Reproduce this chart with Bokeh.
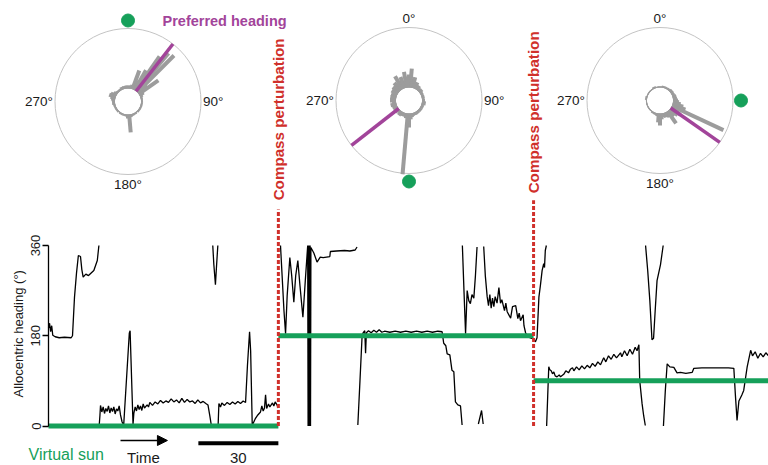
import numpy as np
from bokeh.plotting import figure
from bokeh.models import Range1d, LinearAxis, FixedTicker, Arrow, NormalHead
from bokeh.core.properties import value
from bokeh.embed import file_html
from bokeh.resources import INLINE

nan = float("nan")

# ------------------------------------------------------------------ data
epoch_start = [0.0, 86.2, 181.9]          # s, compass perturbations at 86.2 and 181.9 s
epoch_end = [86.2, 181.9, 270.0]
virtual_sun = [0, 180, 90]                # deg, per epoch
preferred_heading = [38, 232, 125]        # deg, per epoch
heading_ticks = [0, 180, 360]
scale_bar_s = 30
perturb_label = "Compass perturbation"

epoch1_trace = [
    (0.0, 195), (0.4, 205), (0.8, 188), (1.2, 200), (1.6, 181), (2.5, 178), (4.0, 176), (6.0, 177),
    (8.5, 176), (9.0, 180), (9.75, 257), (10.5, 305), (11.2, 340), (12.0, 338), (12.5, 312), (13.0, 297),
    (14.0, 303), (15.0, 300), (16.0, 305), (17.0, 310), (18.3, 330), (18.9, 360), (nan, nan),
    (19.0, 0), (19.3, 22), (19.5, 41), (20.0, 28), (20.5, 38), (21.0, 25), (21.5, 35), (22.0, 29),
    (22.5, 40), (23.0, 26), (23.5, 36), (24.0, 29), (24.5, 38), (25.0, 24), (25.5, 34), (26.0, 30),
    (26.5, 40), (27.0, 22), (27.6, 8), (28.2, 2), (30.3, 185), (30.6, 190), (31.7, 3), (32.0, 25),
    (32.5, 38), (33.0, 30), (33.5, 42), (34.0, 33), (34.5, 40), (35.0, 31), (35.5, 44), (36.0, 36),
    (37.0, 42), (37.5, 38), (38.0, 47), (39.0, 41), (40.0, 48), (41.0, 44), (42.0, 51), (43.0, 46),
    (44.0, 50), (45.0, 47), (46.0, 54), (47.0, 48), (48.0, 52), (49.0, 46), (50.0, 55), (51.0, 47),
    (52.0, 53), (53.0, 48), (54.0, 50), (55.0, 45), (56.0, 52), (57.0, 46), (58.0, 49), (59.0, 45),
    (59.8, 42), (60.5, 20), (61.1, 0), (nan, nan),
    (61.6, 360), (62.0, 322), (62.6, 282), (63.0, 318), (63.5, 360), (nan, nan),
    (63.6, 0), (63.9, 45), (64.5, 38), (65.0, 46), (66.0, 41), (67.0, 47), (68.0, 43), (69.0, 48),
    (70.0, 44), (71.0, 49), (72.0, 45), (73.0, 50), (73.9, 47), (74.6, 120), (75.4, 188), (75.8, 150),
    (76.4, 2), (76.8, 6), (77.5, 14), (78.5, 22), (79.5, 28), (80.0, 40), (80.5, 30), (81.0, 36),
    (81.4, 62), (81.8, 35), (82.5, 44), (83.0, 38), (84.0, 46), (84.5, 40), (85.0, 48), (85.7, 42),
    (86.1, 36),
]

epoch2_trace = [
    (87.0, 360), (87.6, 300), (88.3, 230), (88.9, 184), (89.5, 260), (90.5, 336), (91.2, 300), (92.0, 247),
    (92.7, 300), (93.5, 330), (94.3, 280), (95.4, 217), (96.3, 290), (97.2, 360), (97.35, 0), (97.5, 360),
    (97.65, 0), (97.8, 360), (97.95, 0), (98.1, 360), (98.25, 0), (98.4, 356), (99.5, 345), (100.7, 327),
    (101.9, 337), (103.0, 336), (105.5, 338), (105.7, 348), (108.0, 349), (111.0, 350), (113.0, 349),
    (115.0, 351), (115.7, 357), (nan, nan),
    (116.0, 2), (116.8, 90), (117.6, 180), (118.0, 186), (118.6, 190), (118.9, 145), (119.2, 186),
    (120.0, 190), (121.0, 186), (122.0, 191), (123.0, 187), (124.0, 192), (125.0, 187), (126.0, 189),
    (128.0, 187), (130.0, 189), (132.0, 187), (134.0, 189), (136.0, 187), (138.0, 189), (140.0, 187),
    (142.0, 189), (144.0, 187), (146.0, 189), (147.6, 188), (148.2, 165), (149.0, 160), (149.5, 144),
    (150.5, 142), (151.3, 111), (152.0, 108), (152.6, 48), (153.5, 42), (154.5, 40), (155.1, 2), (nan, nan),
    (155.2, 360), (155.8, 270), (156.4, 184), (157.0, 270), (157.6, 250), (158.2, 244), (158.8, 262),
    (159.5, 255), (160.1, 300), (160.7, 357), (nan, nan),
    (161.2, 4), (162.4, 31), (163.0, 4), (nan, nan),
    (163.2, 358), (163.8, 300), (164.5, 258), (165.0, 240), (165.5, 262), (166.0, 235), (166.5, 255),
    (167.0, 238), (167.5, 258), (168.2, 245), (168.9, 276), (169.5, 245), (170.0, 252), (171.0, 230),
    (171.5, 245), (172.0, 228), (173.3, 215), (174.0, 238), (175.2, 240), (176.0, 214), (176.5, 225),
    (177.0, 210), (178.0, 222), (178.3, 200), (178.9, 186), (179.5, 180), (180.5, 176), (181.5, 174),
    (181.9, 175),
]

epoch3_trace = [
    (182.0, 172), (182.6, 168), (183.2, 176), (183.9, 257), (184.5, 282), (185.1, 310), (185.7, 324),
    (186.0, 316), (186.3, 350), (186.7, 360), (nan, nan),
    (186.8, 0), (187.2, 60), (187.6, 118), (188.0, 112), (188.5, 110), (189.0, 104), (189.5, 108),
    (190.0, 100), (190.7, 98), (191.5, 102), (192.0, 98), (193.2, 103), (194.0, 110), (195.0, 106),
    (195.7, 113), (196.5, 116), (197.0, 110), (198.0, 118), (199.0, 112), (200.0, 120), (201.0, 114),
    (202.0, 121), (203.0, 116), (204.0, 125), (205.0, 119), (206.0, 128), (207.0, 122), (208.2, 136),
    (209.0, 128), (210.0, 140), (211.0, 133), (212.0, 143), (213.0, 136), (214.5, 146), (215.0, 138),
    (216.0, 150), (217.0, 140), (218.0, 153), (219.0, 143), (220.0, 157), (220.7, 150), (221.4, 162),
    (221.7, 91), (222.6, 44), (223.2, 20), (223.8, 1), (nan, nan),
    (223.9, 360), (224.7, 310), (225.5, 250), (226.3, 172), (226.9, 175), (227.5, 230), (228.2, 290),
    (229.5, 322), (230.5, 360), (nan, nan),
    (230.6, 0), (231.3, 70), (232.0, 124), (233.0, 118), (234.5, 117), (235.7, 106), (237.0, 107),
    (239.0, 105), (241.4, 107), (242.0, 115), (245.0, 116), (250.0, 116), (255.0, 116), (257.0, 115),
    (257.6, 60), (258.2, 11), (258.9, 50), (260.0, 62), (260.7, 71), (262.0, 118), (263.3, 151),
    (264.0, 140), (265.0, 148), (266.0, 135), (267.0, 145), (268.0, 138), (269.0, 146), (270.0, 140),
]

# polar (rose) histograms: 5-degree bins, counts (60 = full radius)
rose_angles = list(range(0, 360, 5))
rose_counts_1 = [3, 2, 3, 4, 20, 10, 23, 42, 50, 52, 12, 24, 5, 3, 2, 2, 1, 2, 1, 1, 2, 1, 1, 2,
                 1, 1, 2, 1, 1, 1, 2, 1, 2, 2, 3, 18, 4, 2, 1, 2, 1, 1, 2, 1, 1, 1, 2, 1,
                 1, 2, 1, 2, 2, 3, 2, 3, 4, 5, 7, 6, 4, 3, 2, 2, 1, 2, 2, 3, 2, 3, 2, 3]
rose_counts_2 = [13, 19, 9, 11, 5, 7, 4, 5, 2, 3, 4, 2, 3, 2, 1, 3, 2, 1, 3, 2, 4, 1, 2, 3,
                 2, 1, 3, 2, 1, 3, 2, 3, 2, 3, 4, 6, 14, 61, 5, 3, 4, 2, 4, 5, 3, 2, 5, 3,
                 5, 3, 5, 6, 4, 3, 6, 4, 6, 3, 6, 4, 7, 5, 8, 5, 10, 7, 15, 8, 12, 7, 16, 11]
rose_counts_3 = [1, 1, 1, 2, 1, 1, 2, 1, 2, 2, 3, 2, 3, 2, 3, 4, 3, 4, 5, 6, 8, 11, 14, 57,
                 9, 12, 10, 6, 8, 15, 6, 4, 5, 3, 4, 6, 12, 9, 3, 2, 2, 1, 2, 1, 1, 1, 1, 1,
                 1, 1, 1, 1, 1, 1, 1, 1, 2, 1, 1, 1, 1, 1, 1, 1, 1, 1, 1, 2, 1, 1, 1, 1]
rose_counts = [rose_counts_1, rose_counts_2, rose_counts_3]
rose_full = 60
polar_labels = [[90, 180, 270], [0, 90, 270], [0, 180, 270]]

# ------------------------------------------------------------------ styles / layout
W, H = 768, 465
GREEN = "#16a05a"
PURPLE = "#a2449a"
RED = "#d0302b"
GRAY = "#9c9c9c"
FONT = value("Liberation Sans")

# pixel scales of the time-series coordinate system
SX = 2.6667   # px per second
SY = 0.5014   # px per degree
x0 = -48.0 / SX
y1 = 425.5 / SY
p = figure(width=W, height=H, output_backend="svg", toolbar_location=None,
           x_axis_type=None, y_axis_type=None, min_border=0,
           x_range=Range1d(x0, x0 + W / SX), y_range=Range1d(y1 - H / SY, y1))
p.outline_line_color = None
p.background_fill_color = "white"
p.border_fill_color = "white"

# canvas-pixel coordinate system for the polar plots (y grows downward)
p.extra_x_ranges = {"px": Range1d(0, W)}
p.extra_y_ranges = {"pxy": Range1d(H, 0)}
PC_X = [127.5, 408.5, 659.5]
PC_Y = [101, 100, 100]
R = 73.0
R0 = 13.0

# ------------------------------------------------------------------ polar plots
p.circle(x=PC_X, y=PC_Y, radius=R, fill_color=None, line_color="#c4c4c4", line_width=1,
         x_range_name="px", y_range_name="pxy")
for k in range(3):
    th = np.radians(rose_angles)
    L = np.array(rose_counts[k], float) * (R - R0) / rose_full
    cx, cy = PC_X[k], PC_Y[k]
    p.segment(x0=cx + R0 * np.sin(th), y0=cy - R0 * np.cos(th),
              x1=cx + (R0 + L) * np.sin(th), y1=cy - (R0 + L) * np.cos(th),
              line_color=GRAY, line_width=4, line_cap="butt",
              x_range_name="px", y_range_name="pxy")
ph = np.radians(preferred_heading)
pcx, pcy = np.array(PC_X), np.array(PC_Y)
p.segment(x0=pcx + R0 * np.sin(ph), y0=pcy - R0 * np.cos(ph),
          x1=pcx + R * np.sin(ph), y1=pcy - R * np.cos(ph),
          line_color=PURPLE, line_width=3.5, line_cap="butt",
          x_range_name="px", y_range_name="pxy")
vs = np.radians(virtual_sun)
p.scatter(x=pcx + (R + 8) * np.sin(vs), y=pcy - (R + 8) * np.cos(vs), size=13,
          marker="circle", fill_color=GREEN, line_color=GREEN,
          x_range_name="px", y_range_name="pxy")

align = {0: ("center", "bottom"), 90: ("left", "middle"), 180: ("center", "top"), 270: ("right", "middle")}
for ang, (ta, tb) in align.items():
    xs, ys = [], []
    for k in range(3):
        if ang in polar_labels[k]:
            a = np.radians(ang)
            xs.append(PC_X[k] + (R + 2) * np.sin(a))
            ys.append(PC_Y[k] - (R + 2) * np.cos(a))
    p.text(x=xs, y=ys, text=[f"{ang}°"] * len(xs), text_align=ta, text_baseline=tb,
           text_font=FONT, text_font_size="13.5px", text_color="#1a1a1a",
           x_range_name="px", y_range_name="pxy")

p.text(x=[162], y=[20.7], text=["Preferred heading"], text_align="left", text_baseline="alphabetic",
       text_font=FONT, text_font_size="14.5px", text_font_style="bold", text_color=PURPLE,
       x_range_name="px", y_range_name="pxy")

# ------------------------------------------------------------------ heading trace
trace = epoch1_trace + [(nan, nan)] + epoch2_trace + [(nan, nan)] + epoch3_trace
tt = [a for a, b in trace]
hh = [b for a, b in trace]
p.line(tt, hh, line_color="black", line_width=1.3)

# virtual sun per epoch
p.segment(x0=epoch_start, y0=virtual_sun, x1=epoch_end, y1=virtual_sun,
          line_color=GREEN, line_width=5, line_cap="butt")

# compass perturbations
pert_t = epoch_start[1:]
p.segment(x0=pert_t, y0=[0, 0], x1=pert_t, y1=[432, 450],
          line_color=RED, line_width=3, line_dash="4 2")
p.text(x=pert_t, y=[450, 464], text=[perturb_label] * 2, angle=np.pi / 2,
       text_align="left", text_baseline="middle", text_font=FONT, text_font_size="15.2px",
       text_font_style="bold", text_color=RED)

# y axis
yaxis = LinearAxis(fixed_location=0, bounds=(0, 360), ticker=FixedTicker(ticks=heading_ticks),
                   major_label_orientation="vertical", major_tick_out=6, major_tick_in=0,
                   minor_tick_out=0, minor_tick_in=0, axis_line_width=1.3,
                   major_tick_line_width=1.3, major_label_standoff=2,
                   major_label_text_font="Liberation Sans", major_label_text_font_size="13px",
                   major_label_text_color="#1a1a1a")
p.add_layout(yaxis, "left")
p.text(x=[-11.25], y=[184], text=["Allocentric heading (°)"], angle=np.pi / 2,
       text_align="center", text_baseline="middle", text_font=FONT, text_font_size="13px",
       text_color="#1a1a1a")

# bottom annotations
p.text(x=[-7.5], y=[-56.8], text=["Virtual sun"], text_align="left", text_baseline="alphabetic",
       text_font=FONT, text_font_size="16px", text_color=GREEN)
p.add_layout(Arrow(x_start=27.0, y_start=-28.9, x_end=44.6, y_end=-28.9, line_width=1.5,
                   line_color="black",
                   end=NormalHead(size=10, fill_color="black", line_color="black", line_width=1)))
p.text(x=[35.6], y=[-63.8], text=["Time"], text_align="center", text_baseline="alphabetic",
       text_font=FONT, text_font_size="15px", text_color="#1a1a1a")
bar_end = epoch_start[1]
p.segment(x0=[bar_end - scale_bar_s], y0=[-34.3], x1=[bar_end], y1=[-34.3],
          line_color="black", line_width=4, line_cap="butt")
p.text(x=[bar_end - scale_bar_s / 2], y=[-63.8], text=[str(scale_bar_s)], text_align="center",
       text_baseline="alphabetic", text_font=FONT, text_font_size="15px", text_color="#1a1a1a")

open("out.html", "w").write(file_html(p, INLINE))
